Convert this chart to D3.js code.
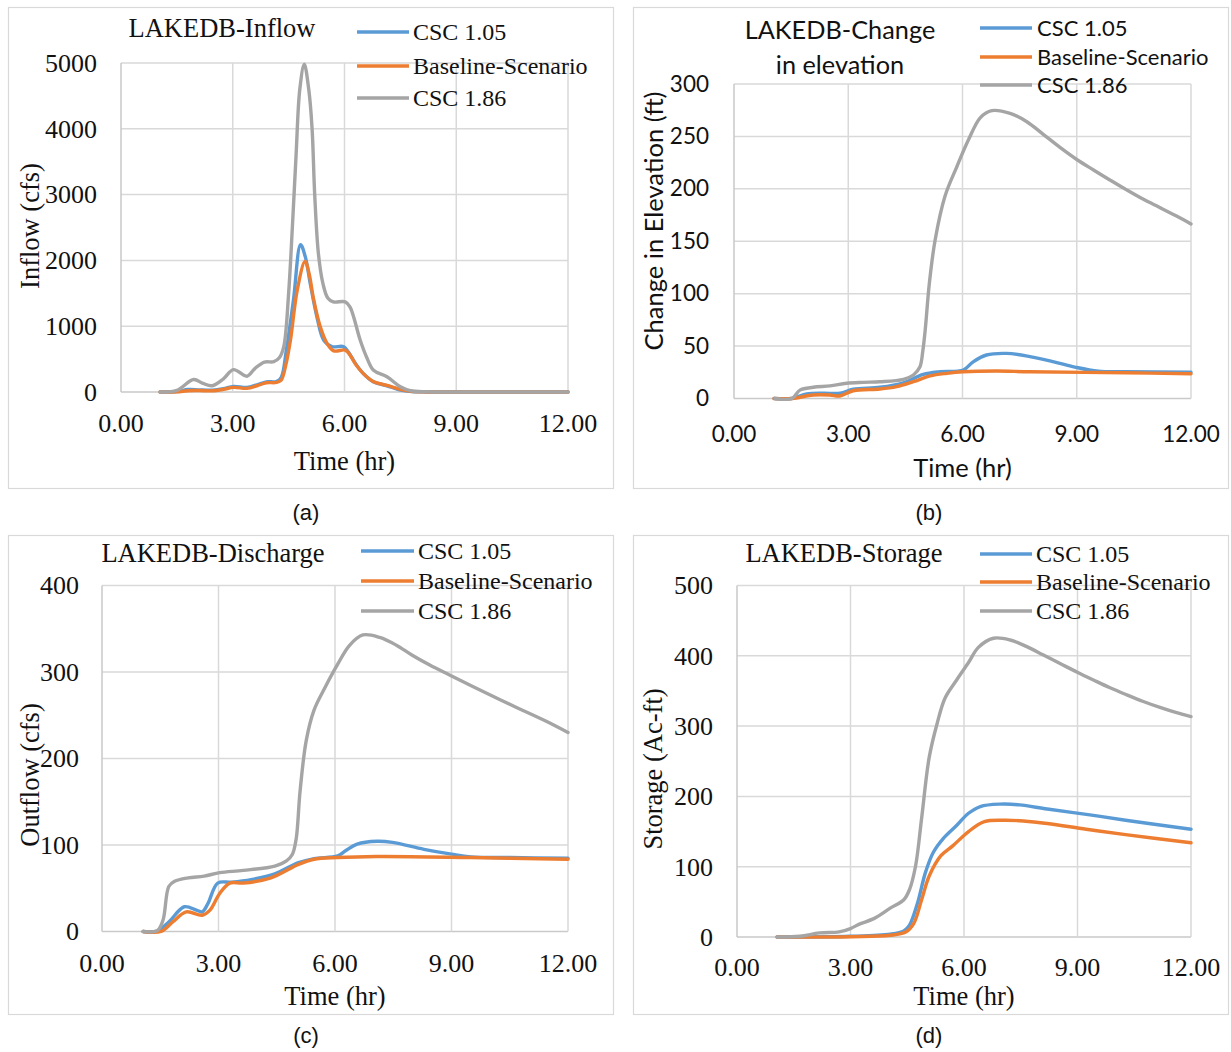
<!DOCTYPE html>
<html>
<head>
<meta charset="utf-8">
<script src="https://cdn.jsdelivr.net/npm/d3@7"></script>
<style>
  body { margin: 0; background: #fff; }
</style>
</head>
<body>
<svg id="fig" width="1231" height="1052"></svg>
<script>
"use strict";

// ---- data (time in hr, value) ----
const seriesNames = ["CSC 1.05", "Baseline-Scenario", "CSC 1.86"];
const seriesColors = ["#5B9BD5", "#ED7D31", "#A5A5A5"];
const timeTicks = [0, 3, 6, 9, 12];

const inflowTicks = [0, 1000, 2000, 3000, 4000, 5000];
const inflowCsc105 = [[1.05,0],[1.5,5],[1.8,38],[2.1,32],[2.45,28],[2.75,50],[3.02,85],[3.38,70],[3.65,110],[3.9,155],[4.17,160],[4.3,220],[4.44,640],[4.63,1400],[4.82,2240],[4.95,2050],[5.08,1650],[5.26,1140],[5.44,790],[5.66,690],[5.97,690],[6.1,610],[6.3,430],[6.5,283],[6.77,156],[7.14,95],[7.5,30],[7.8,8],[8.2,1],[9,0],[12,0]];
const inflowBaseline = [[1.05,0],[1.5,3],[1.8,20],[2.1,22],[2.44,18],[2.75,40],[3.02,70],[3.38,55],[3.65,95],[3.9,140],[4.17,145],[4.3,180],[4.42,400],[4.55,790],[4.73,1545],[4.94,1985],[5.05,1800],[5.16,1440],[5.35,990],[5.53,740],[5.71,626],[6.02,636],[6.15,560],[6.3,420],[6.5,283],[6.77,160],[7.14,100],[7.5,40],[7.8,10],[8.2,1],[9,0],[12,0]];
const inflowCsc186 = [[1.05,0],[1.5,25],[1.95,190],[2.2,130],[2.45,95],[2.75,200],[3.02,340],[3.38,240],[3.6,360],[3.85,455],[4.1,460],[4.25,520],[4.37,690],[4.5,1500],[4.6,2500],[4.7,3600],[4.8,4600],[4.92,4980],[5.04,4600],[5.13,4000],[5.2,3000],[5.3,2100],[5.42,1650],[5.55,1430],[5.7,1370],[6.02,1370],[6.15,1290],[6.42,790],[6.6,520],[6.78,330],[7.14,232],[7.5,80],[7.77,20],[8.2,3],[9,0],[12,0]];

const elevTicks = [0, 50, 100, 150, 200, 250, 300];
const elevCsc105 = [[1.05,0],[1.52,0],[1.91,4.3],[2.35,5],[2.79,5],[3.13,8.8],[3.83,10.7],[4.45,15],[4.97,23],[5.41,25.6],[6.02,27.2],[6.28,35],[6.63,41.5],[7.16,43],[7.77,40],[8.4,35],[8.95,30],[9.57,26],[10.3,25.5],[12,25]];
const elevBaseline = [[1.05,0],[1.52,0],[2.08,3.3],[2.52,3.3],[2.78,2.4],[3.13,7.4],[3.83,9],[4.27,11.3],[4.71,16],[5.15,21.5],[5.59,24],[6.02,25.5],[6.9,26.2],[7.77,25.5],[10.3,24.5],[12,23.6]];
const elevCsc186 = [[1.08,0],[1.52,0],[1.73,8],[2.08,10.7],[2.52,12],[2.96,14.5],[3.4,15.4],[3.83,16],[4.45,18.3],[4.71,22.4],[4.88,30],[4.96,46],[5.02,65],[5.13,110],[5.28,151],[5.54,193],[5.85,221],[6.16,247],[6.47,268],[6.77,274.6],[7.25,272],[7.69,264],[8.12,252],[8.56,239.5],[9.0,228],[9.44,218],[9.87,208.5],[10.31,199],[10.75,190],[11.19,182],[11.62,174],[12,166.5]];

const outflowTicks = [0, 100, 200, 300, 400];
const outflowCsc105 = [[1.06,0],[1.42,0.4],[1.72,11],[2.12,28.6],[2.43,24.7],[2.58,22.7],[2.73,32.5],[2.98,56],[3.34,57],[3.84,60],[4.45,66.7],[5.06,79.6],[5.46,84.3],[6.07,87.5],[6.27,93.3],[6.57,101],[7.08,104.3],[7.48,103],[8.29,95],[9.0,89.4],[9.5,86.3],[10.5,85.5],[12,84.7]];
const outflowBaseline = [[1.06,0],[1.52,0],[1.82,11],[2.17,22.7],[2.58,18.8],[2.78,24.7],[3.03,44],[3.29,56],[3.64,56],[4.35,62],[5.06,77.6],[5.46,83.5],[6.07,85.5],[7.08,86.7],[9.5,85.5],[12,83.5]];
const outflowCsc186 = [[1.06,0],[1.42,1],[1.57,13],[1.72,52],[1.87,58],[2.22,62],[2.63,64],[3.03,68],[3.64,70.6],[4.45,75.7],[4.75,81.6],[4.9,89],[5.0,107],[5.1,162],[5.26,221],[5.46,256],[5.76,283.5],[6.07,309],[6.37,330.6],[6.72,342.8],[7.15,340],[7.58,331],[8.0,319],[8.44,308],[8.95,296.5],[9.72,279.5],[10.58,261],[11.44,243],[12,230]];

const storageTicks = [0, 100, 200, 300, 400, 500];
const storageCsc105 = [[1.06,0],[3.0,1],[4.05,4],[4.41,8.7],[4.56,17],[4.77,48],[4.98,91.6],[5.19,120.5],[5.45,140],[5.81,159],[6.12,176],[6.43,185.6],[6.95,189],[7.47,188],[8.2,182],[9.23,174.5],[10.27,166],[12,153.3]];
const storageBaseline = [[1.06,0],[4.05,2.4],[4.46,7],[4.67,19],[4.88,53],[5.08,86.8],[5.39,115.7],[5.71,130],[6.12,150],[6.54,164],[7.05,166],[7.57,165],[8.2,161.5],[9.23,153.3],[10.27,145.6],[12,134]];
const storageCsc186 = [[1.06,0],[1.66,1],[2.18,5.8],[2.7,7.2],[3.0,12],[3.22,18],[3.63,26.5],[4.05,41],[4.41,53],[4.56,67.5],[4.72,101],[4.88,169],[5.08,255.5],[5.29,303.8],[5.5,340],[5.81,366],[6.12,390.5],[6.38,412],[6.78,425],[7.22,422.5],[7.66,413],[8.1,401],[8.54,389],[8.98,377],[9.42,365.6],[9.86,354.5],[10.3,344.5],[10.74,335],[11.18,326.5],[11.62,319],[12,313.5]];

// ---- layout ----
const SERIF = "'Liberation Serif', 'Times New Roman', serif";
const SANS = "Lato, 'Noto Sans', sans-serif";

const panels = [
    {
        caption: "(a)", captionX: 306, captionY: 520,
        border: [8, 7, 605, 481],
        plot: { left: 121, right: 568, top: 63, bottom: 392 },
        series: [inflowCsc105, inflowBaseline, inflowCsc186],
        yTicks: inflowTicks,
        font: SERIF, tickSize: 26, legendSize: 24, titleSize: 26.5, axisSize: 26.5,
        title: ["LAKEDB-Inflow"], titleX: 222, titleY: [37],
        legend: { x1: 357, x2: 409, tx: 413, ys: [32, 66, 98] },
        yLabelRight: 97, xLabelY: 432,
        xTitleY: 470, yTitle: "Inflow (cfs)", yTitleX: 39, yTitleY: 226
    },
    {
        caption: "(b)", captionX: 929, captionY: 520,
        border: [633, 7, 595, 481],
        plot: { left: 734, right: 1191, top: 84, bottom: 398.5 },
        series: [elevCsc105, elevBaseline, elevCsc186],
        yTicks: elevTicks,
        font: SANS, tickSize: 22.5, legendSize: 22, titleSize: 25.3, axisSize: 25.5,
        title: ["LAKEDB-Change", "in elevation"], titleX: 840, titleY: [39, 74],
        legend: { x1: 980, x2: 1032, tx: 1037, ys: [28, 57, 85] },
        yLabelRight: 709, xLabelY: 442,
        xTitleY: 477, yTitle: "Change in Elevation (ft)", yTitleX: 663, yTitleY: 221
    },
    {
        caption: "(c)", captionX: 306, captionY: 1043,
        border: [8, 535, 605, 479],
        plot: { left: 102, right: 568, top: 585.5, bottom: 931.5 },
        series: [outflowCsc105, outflowBaseline, outflowCsc186],
        yTicks: outflowTicks,
        font: SERIF, tickSize: 26, legendSize: 24, titleSize: 26.5, axisSize: 26.5,
        title: ["LAKEDB-Discharge"], titleX: 213, titleY: [562],
        legend: { x1: 361, x2: 414, tx: 418, ys: [551, 581, 611] },
        yLabelRight: 79, xLabelY: 972,
        xTitleY: 1005, yTitle: "Outflow (cfs)", yTitleX: 39, yTitleY: 775
    },
    {
        caption: "(d)", captionX: 929, captionY: 1043,
        border: [633, 535, 595, 479],
        plot: { left: 737, right: 1191, top: 585.5, bottom: 937 },
        series: [storageCsc105, storageBaseline, storageCsc186],
        yTicks: storageTicks,
        font: SERIF, tickSize: 26, legendSize: 24, titleSize: 26.5, axisSize: 26.5,
        title: ["LAKEDB-Storage"], titleX: 844, titleY: [562],
        legend: { x1: 980, x2: 1032, tx: 1036, ys: [554, 582, 611] },
        yLabelRight: 713, xLabelY: 976,
        xTitleY: 1005, yTitle: "Storage (Ac-ft)", yTitleX: 662, yTitleY: 769
    }
];

const svg = d3.select("#fig");

/**
 * Draws one chart panel: frame, grid, tick labels, series, legend and titles.
 */
const drawPanel = (p) => {
    const g = svg.append("g");
    const x = d3.scaleLinear().domain([0, 12]).range([p.plot.left, p.plot.right]);
    const y = d3.scaleLinear()
        .domain([0, d3.max(p.yTicks)])
        .range([p.plot.bottom, p.plot.top]);

    g.append("rect")
        .attr("x", p.border[0] + 0.5)
        .attr("y", p.border[1] + 0.5)
        .attr("width", p.border[2])
        .attr("height", p.border[3])
        .attr("fill", "#fff")
        .attr("stroke", "#d9d9d9")
        .attr("stroke-width", 1.2);

    // gridlines
    g.append("g")
        .selectAll("line")
        .data(p.yTicks)
        .join("line")
        .attr("x1", x(0))
        .attr("x2", x(12))
        .attr("y1", (d) => y(d))
        .attr("y2", (d) => y(d))
        .attr("stroke", (d) => (d === 0 ? "#c9c9c9" : "#d9d9d9"))
        .attr("stroke-width", 1.5);
    g.append("g")
        .selectAll("line")
        .data(timeTicks)
        .join("line")
        .attr("x1", (d) => x(d))
        .attr("x2", (d) => x(d))
        .attr("y1", y.range()[0])
        .attr("y2", y.range()[1])
        .attr("stroke", (d) => (d === 0 ? "#c9c9c9" : "#d9d9d9"))
        .attr("stroke-width", 1.5);

    // tick labels
    g.append("g")
        .selectAll("text")
        .data(p.yTicks)
        .join("text")
        .attr("x", p.yLabelRight)
        .attr("y", (d) => y(d))
        .attr("dy", "0.34em")
        .attr("text-anchor", "end")
        .style("font-family", p.font)
        .style("font-size", `${p.tickSize}px`)
        .attr("fill", "#111")
        .text((d) => d);
    g.append("g")
        .selectAll("text")
        .data(timeTicks)
        .join("text")
        .attr("x", (d) => x(d))
        .attr("y", p.xLabelY)
        .attr("text-anchor", "middle")
        .style("font-family", p.font)
        .style("font-size", `${p.tickSize}px`)
        .attr("fill", "#111")
        .text(d3.format(".2f"));

    // series (smoothed like the spreadsheet lines)
    const line = d3.line()
        .x((d) => x(d[0]))
        .y((d) => y(Math.max(0, d[1])))
        .curve(d3.curveCatmullRom.alpha(0.5));
    p.series.forEach((s, i) => {
        g.append("path")
            .datum(s)
            .attr("d", line)
            .attr("fill", "none")
            .attr("stroke", seriesColors[i])
            .attr("stroke-width", 3.4)
            .attr("stroke-linejoin", "round")
            .attr("stroke-linecap", "round");
    });

    // legend
    const lg = g.append("g");
    seriesNames.forEach((name, i) => {
        lg.append("line")
            .attr("x1", p.legend.x1)
            .attr("x2", p.legend.x2)
            .attr("y1", p.legend.ys[i])
            .attr("y2", p.legend.ys[i])
            .attr("stroke", seriesColors[i])
            .attr("stroke-width", 3.5);
        lg.append("text")
            .attr("x", p.legend.tx)
            .attr("y", p.legend.ys[i])
            .attr("dy", "0.35em")
            .style("font-family", p.font)
            .style("font-size", `${p.legendSize}px`)
            .attr("fill", "#111")
            .text(name);
    });

    // chart title
    p.title.forEach((t, i) => {
        g.append("text")
            .attr("x", p.titleX)
            .attr("y", p.titleY[i])
            .attr("text-anchor", "middle")
            .style("font-family", p.font)
            .style("font-size", `${p.titleSize}px`)
            .attr("fill", "#111")
            .text(t);
    });

    // axis titles
    g.append("text")
        .attr("x", (p.plot.left + p.plot.right) / 2)
        .attr("y", p.xTitleY)
        .attr("text-anchor", "middle")
        .style("font-family", p.font)
        .style("font-size", `${p.axisSize}px`)
        .attr("fill", "#111")
        .text("Time (hr)");
    g.append("text")
        .attr("transform", `translate(${p.yTitleX},${p.yTitleY}) rotate(-90)`)
        .attr("text-anchor", "middle")
        .style("font-family", p.font)
        .style("font-size", `${p.axisSize}px`)
        .attr("fill", "#111")
        .text(p.yTitle);

    // caption
    svg.append("text")
        .attr("x", p.captionX)
        .attr("y", p.captionY)
        .attr("text-anchor", "middle")
        .style("font-family", "'Liberation Sans', Arial, sans-serif")
        .style("font-size", "22px")
        .attr("fill", "#111")
        .text(p.caption);
};

panels.forEach(drawPanel);
</script>
</body>
</html>
